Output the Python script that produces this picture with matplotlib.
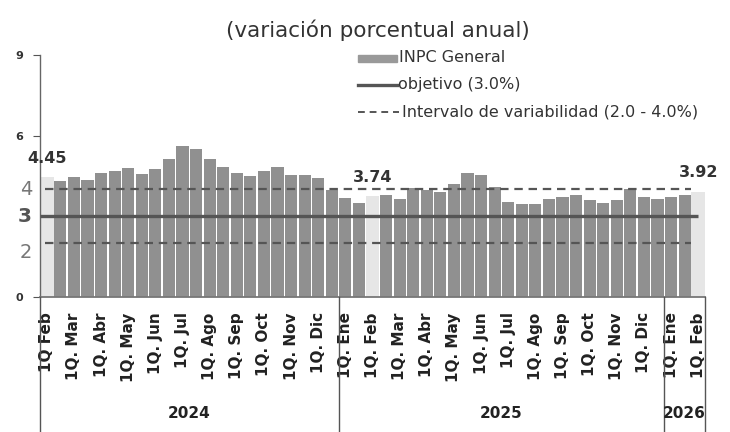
import numpy as np
import matplotlib.pyplot as plt
from matplotlib.lines import Line2D
from matplotlib.patches import Rectangle
from matplotlib.transforms import blended_transform_factory

plt.rcParams['font.family'] = ['DejaVu Sans']

# etiquetas de la primera quincena de cada mes
etiquetas = ['1Q Feb', '1Q. Mar', '1Q. Abr', '1Q. May', '1Q. Jun', '1Q. Jul',
             '1Q. Ago', '1Q. Sep', '1Q. Oct', '1Q. Nov', '1Q. Dic',
             '1Q. Ene', '1Q. Feb', '1Q. Mar', '1Q. Abr', '1Q. May', '1Q. Jun',
             '1Q. Jul', '1Q. Ago', '1Q. Sep', '1Q. Oct', '1Q. Nov', '1Q. Dic',
             '1Q. Ene', '1Q. Feb']

# INPC general, variacion anual por quincena (1Q Feb 2024 - 1Q Feb 2026)
inpc = [4.45, 4.32, 4.48, 4.36, 4.63, 4.68, 4.78, 4.58, 4.77, 5.14,
        5.62, 5.52, 5.14, 4.83, 4.63, 4.49, 4.70, 4.84, 4.54, 4.55,
        4.41, 3.98, 3.69, 3.48, 3.74, 3.80, 3.65, 4.04, 3.98, 3.90,
        4.21, 4.61, 4.52, 4.09, 3.53, 3.46, 3.46, 3.63, 3.71, 3.80,
        3.61, 3.49, 3.60, 4.01, 3.71, 3.64, 3.73, 3.80, 3.92]

resaltados = [0, 24, 48]
anios = ['2024', '2025', '2026']
quincenas_por_anio = [22, 24, 3]
objetivo = 3.0
intervalo = [2.0, 4.0]

W, H = 730, 432
fig = plt.figure(figsize=(W / 100, H / 100), dpi=100)


def fx(px):
    return px / W


def fy(py):
    return 1 - py / H


ax = fig.add_axes([fx(40), fy(297), fx(705) - fx(40), fy(55) - fy(297)])

x = np.arange(len(inpc))
colores = ['#e6e6e6' if i in resaltados else '#909090' for i in x]
anchos = [1.0 if i in resaltados else 0.9 for i in x]
ax.bar(x, inpc, width=anchos, color=colores, zorder=1)

# objetivo e intervalo
ax.plot([-0.5, 48.0], [objetivo, objetivo], color='#555555', lw=2.4, zorder=3,
        solid_capstyle='butt')
for v in intervalo:
    ax.plot([-0.15, 47.5], [v, v], color='#555555', lw=1.6, zorder=3,
            dashes=(3.8, 2.6))

# valores destacados
for i in resaltados:
    ax.text(i, inpc[i] + 0.42, f'{inpc[i]:.2f}', ha='center', va='bottom',
            fontsize=11.5, fontweight='bold', color='#333333')

ax.set_xlim(-0.5, len(inpc) - 0.5)
ax.set_ylim(0, 9)
ax.set_yticks([0, 6, 9])
ax.set_yticklabels(['0', '6', '9'], fontsize=8, fontweight='bold', color='#333333')
ax.tick_params(axis='y', length=5, width=0.8, color='#555555', pad=7)

ax.set_xticks(x[::2])
ax.set_xticklabels(etiquetas, rotation=90, fontsize=11, fontweight='bold',
                   color='#222222', va='top', ha='center')
ax.tick_params(axis='x', length=0, pad=11)

for s in ['top', 'right']:
    ax.spines[s].set_visible(False)
ax.spines['left'].set_color('#666666')
ax.spines['left'].set_linewidth(1.0)
ax.spines['bottom'].set_color('#777777')
ax.spines['bottom'].set_linewidth(1.3)

# etiquetas grandes del eje y
ytr = ax.get_yaxis_transform()
ax.text(-0.012, 4.0, '4', transform=ytr, ha='right', va='center', fontsize=14,
        color='#777777')
ax.text(-0.012, 3.0, '3', transform=ytr, ha='right', va='center', fontsize=14.5,
        color='#555555', fontweight='bold')
ax.text(-0.012, 1.65, '2', transform=ytr, ha='right', va='center', fontsize=14,
        color='#777777')

# separadores de anios
tr = blended_transform_factory(ax.transData, fig.transFigure)
limites = np.cumsum([0] + quincenas_por_anio) - 0.5
for b in limites:
    fig.add_artist(Line2D([b, b], [0, fy(297)], transform=tr, color='#555555', lw=1.0))
for k, anio in enumerate(anios):
    c = (limites[k] + limites[k + 1]) / 2
    fig.text(c, fy(414), anio, transform=tr, ha='center', va='center',
             fontsize=11, fontweight='bold', color='#222222')

# titulo
fig.text(fx(378), fy(30), '(variación porcentual anual)', ha='center', va='center',
         fontsize=15.5, color='#333333')

# leyenda
fig.add_artist(Rectangle((fx(358), fy(62)), fx(397) - fx(358), fy(55) - fy(62),
                         transform=fig.transFigure, color='#999999'))
fig.add_artist(Line2D([fx(358), fx(397)], [fy(85), fy(85)], transform=fig.transFigure,
                      color='#555555', lw=2.4))
fig.add_artist(Line2D([fx(358), fx(399)], [fy(112), fy(112)], transform=fig.transFigure,
                      color='#555555', lw=1.4, dashes=(3.5, 2.5)))
fig.text(fx(399), fy(58), 'INPC General', ha='left', va='center', fontsize=11.5,
         color='#333333')
fig.text(fx(398), fy(85), 'objetivo (3.0%)', ha='left', va='center', fontsize=11.5,
         color='#333333')
fig.text(fx(402), fy(112), 'Intervalo de variabilidad (2.0 - 4.0%)', ha='left',
         va='center', fontsize=11.5, color='#333333')

fig.savefig('out.png', dpi=100)
